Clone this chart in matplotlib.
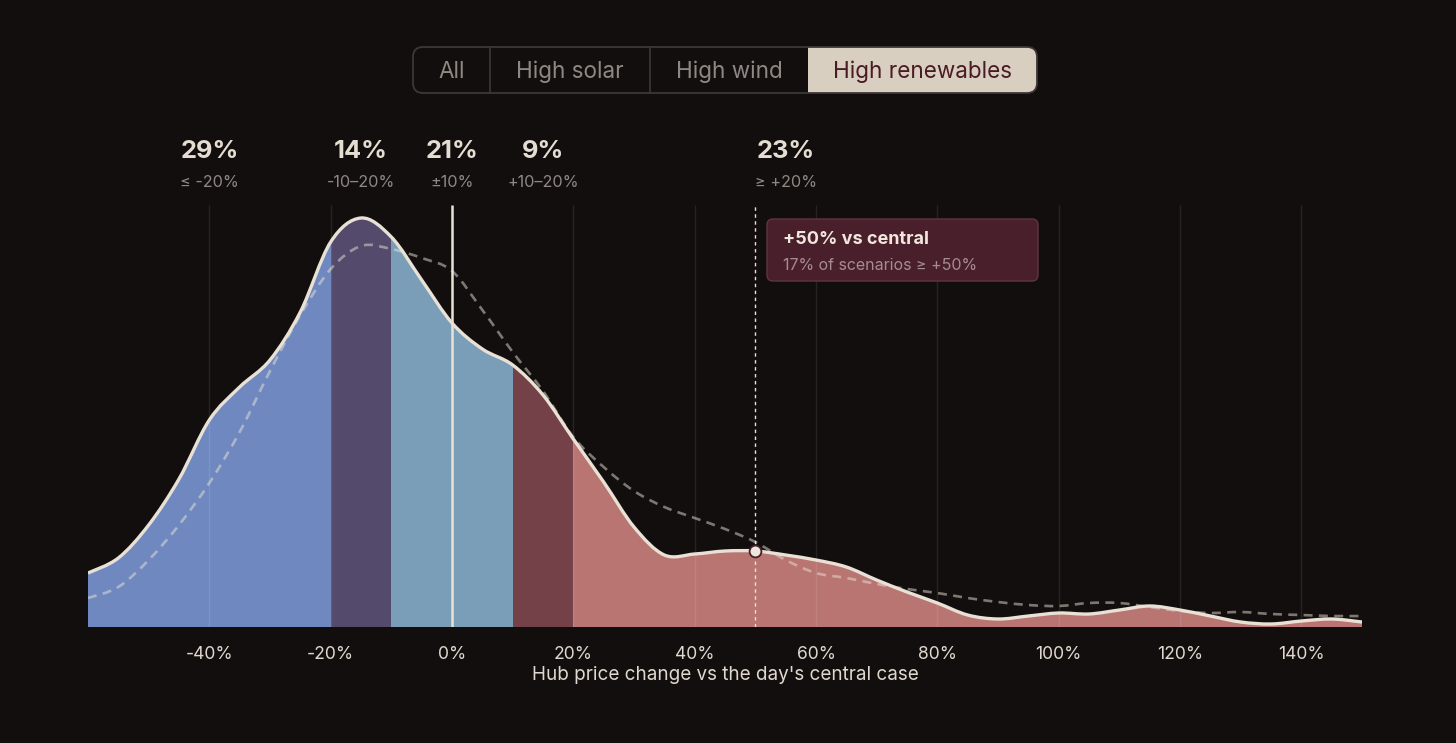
import numpy as np
import matplotlib
matplotlib.use("Agg")
import matplotlib.pyplot as plt
from matplotlib.path import Path
from matplotlib.patches import PathPatch, FancyBboxPatch, Rectangle
from matplotlib.transforms import blended_transform_factory

plt.rcParams['font.family'] = ['Inter', 'DejaVu Sans']

# ---------------- data ----------------
x_pct = list(range(-60, 151, 5))
density_main = [54, 69, 102, 148, 207, 240, 267, 315, 385, 409, 390, 347, 304,
                278, 262, 232, 188, 145, 100, 72, 73, 76, 76, 72, 67, 60, 47,
                35, 24, 12, 8, 11, 14, 13, 17, 21, 17, 11, 5, 3, 6, 8, 5]
density_central = [29, 40, 67, 102, 144, 195, 256, 312, 358, 381, 378, 369, 356,
                   317, 275, 236, 190, 160, 136, 120, 109, 98, 85, 67, 54, 49, 43,
                   38, 34, 29, 25, 22, 21, 24, 24, 20, 16, 14, 15, 13, 12, 11, 11]
band_edges = [-60, -20, -10, 10, 20, 150]
band_colors = ["#6f89c0", "#544a6c", "#7a9db8", "#744149", "#b97571"]
band_shares = ["29%", "14%", "21%", "9%", "23%"]
band_labels = ["≤ -20%", "-10–20%", "±10%", "+10–20%", "≥ +20%"]
band_label_x = [-40, -15, 0, 15, 55]
tick_vals = list(range(-40, 141, 20))
tick_labels = [f"{v}%" for v in tick_vals]
buttons = ["All", "High solar", "High wind", "High renewables"]
active_button = 3
marker_x = 50
note_title = "+50% vs central"
note_text = "17% of scenarios ≥ +50%"
x_label = "Hub price change vs the day's central case"

# ---------------- style ----------------
BG = "#130e0e"
CREAM = "#e9e1d5"
W, H = 1456, 743

fig = plt.figure(figsize=(W / 100, H / 100), dpi=100, facecolor=BG)
ax_left, ax_right, ax_bottom, ax_top = 88, 1362, 627, 205
ax = fig.add_axes([ax_left / W, 1 - ax_bottom / H,
                   (ax_right - ax_left) / W, (ax_bottom - ax_top) / H])
ax.set_facecolor(BG)
ax.set_xlim(-60, 150)
ax.set_ylim(0, 422)
for s in ax.spines.values():
    s.set_visible(False)
ax.set_yticks([])


def smooth_path(xs, ys):
    pts = np.column_stack([np.asarray(xs, float), np.asarray(ys, float)])
    n = len(pts)
    verts = [pts[0]]
    codes = [Path.MOVETO]
    for i in range(n - 1):
        p0 = pts[i - 1] if i > 0 else pts[i]
        p1 = pts[i]
        p2 = pts[i + 1]
        p3 = pts[i + 2] if i + 2 < n else pts[i + 1]
        c1 = p1 + (p2 - p0) / 6.0
        c2 = p2 - (p3 - p1) / 6.0
        verts += [c1, c2, p2]
        codes += [Path.CURVE4] * 3
    return verts, codes


mv, mc = smooth_path(x_pct, density_main)
cv, cc = smooth_path(x_pct, density_central)

# area patch for clipping the bands
area_verts = list(mv) + [(x_pct[-1], 0), (x_pct[0], 0), (x_pct[0], 0)]
area_codes = list(mc) + [Path.LINETO, Path.LINETO, Path.CLOSEPOLY]
area = PathPatch(Path(area_verts, area_codes), facecolor="none", edgecolor="none")
ax.add_patch(area)

for lo, hi, col in zip(band_edges[:-1], band_edges[1:], band_colors):
    r = ax.axvspan(lo, hi, facecolor=col, edgecolor="none", lw=0, zorder=1)
    r.set_clip_path(area)

# gridlines
ax.vlines(tick_vals, 0, 422, colors="white", alpha=0.09, lw=1, zorder=2)

# central-case dashed curve
ax.add_patch(PathPatch(Path(cv, cc), fill=False, edgecolor=CREAM, alpha=0.5,
                       lw=1.9, linestyle=(0, (3.4, 2.4)), zorder=3,
                       capstyle="butt"))

# zero line
ax.vlines([0], 0, 422, colors=CREAM, lw=1.8, zorder=4)
# +50% marker line
ax.vlines([marker_x], 0, 422, colors=CREAM, lw=1.0, linestyles=(0, (2.5, 2.5)),
          zorder=4)

# main curve
ax.add_patch(PathPatch(Path(mv, mc), fill=False, edgecolor=CREAM, lw=2.4,
                       zorder=5, joinstyle="round"))

# marker
my = density_main[x_pct.index(marker_x)]
ax.plot([marker_x], [my], marker="o", ms=8.5, mfc="#efe6dc", mec="#4a1e28",
        mew=1.3, zorder=6, clip_on=False)

# ticks
ax.set_xticks(tick_vals, tick_labels)
ax.tick_params(axis="x", length=0, pad=14, labelsize=12.6, colors="#e0d8ce")
ax.set_xlabel(x_label, fontsize=13.6, color="#e0d8ce", labelpad=2)

# overlay for UI elements
ov = fig.add_axes([0, 0, 1, 1], zorder=10)
ov.set_xlim(0, W)
ov.set_ylim(H, 0)
ov.axis("off")
ov.patch.set_alpha(0)

# stat labels above bands
bt = blended_transform_factory(ax.transData, ov.transData)
for bx, share, lab in zip(band_label_x, band_shares, band_labels):
    ax.text(bx, 151, share, transform=bt, ha="center", va="center",
            fontsize=18.3, fontweight="bold", color="#e6ddd2", clip_on=False)
    ax.text(bx, 182.5, lab, transform=bt, ha="center", va="center",
            fontsize=11.7, color="#8f8781", clip_on=False)

# button group
bx0, by0, bw, bh = 413, 47, 624, 46
seg_edges = [413, 490, 650, 808, 1037]
act_lo, act_hi = seg_edges[active_button], seg_edges[active_button + 1]
ov.add_patch(FancyBboxPatch((act_lo, by0), act_hi - act_lo, bh,
                            boxstyle="round,pad=0,rounding_size=10",
                            facecolor="#d9cfc0", edgecolor="none", zorder=1))
ov.add_patch(Rectangle((act_lo, by0), 20, bh, facecolor="#d9cfc0",
                       edgecolor="none", zorder=1))
ov.add_patch(FancyBboxPatch((bx0, by0), bw, bh,
                            boxstyle="round,pad=0,rounding_size=10",
                            facecolor="none", edgecolor="#3d3737", lw=1.3,
                            zorder=2))
for xe in seg_edges[1:-1]:
    if xe != act_lo:
        ov.plot([xe, xe], [by0, by0 + bh], color="#3d3737", lw=1.2, zorder=2)
for i, name in enumerate(buttons):
    cx = (seg_edges[i] + seg_edges[i + 1]) / 2
    col = "#4a1a25" if i == active_button else "#8f8781"
    ov.text(cx, by0 + bh / 2 + 2, name, ha="center", va="center",
            fontsize=16.2, color=col, zorder=3)

# annotation box
ov.add_patch(FancyBboxPatch((767, 219), 271, 62,
                            boxstyle="round,pad=0,rounding_size=6",
                            facecolor="#4a1f2c", edgecolor="#5e3541", lw=1,
                            zorder=1))
ov.text(783, 240, note_title, ha="left", va="center", fontsize=13,
        fontweight="bold", color="#f1e7dc", zorder=2)
ov.text(783, 265, note_text, ha="left", va="center", fontsize=11.5,
        color="#a58c8f", zorder=2)

fig.savefig("out.png", dpi=100, facecolor=BG)
